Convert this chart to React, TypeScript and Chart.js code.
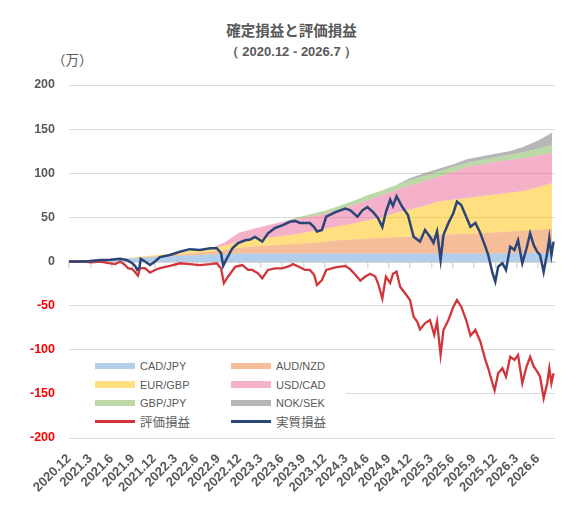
import { useEffect, useRef } from 'react'
import { Chart, registerables } from 'chart.js'

Chart.register(...registerables)

// months since 2020.12 for the stacked (realised) areas
const areaMonths = [0, 2, 4, 6, 8, 10, 12, 14, 16, 18, 20, 22, 24, 26, 28, 30, 32, 34, 36, 38, 40, 42, 44, 46, 48, 50, 52, 54, 56, 58, 60, 62, 64, 66, 68]

const cadJpy = [0, 0.3, 1, 2, 3, 4, 5, 5.8, 6.5, 7.2, 8, 8.5, 9, 9, 9, 9, 9, 9, 9, 9, 9, 9, 9, 9, 9, 9, 9, 9, 9, 9, 9, 9, 9.5, 9.5, 9.5]
const audNzd = [0, 0, 0, 0, 0.3, 0.5, 0.7, 1.2, 1.8, 2.3, 3, 4.5, 6.5, 8, 9, 10, 11, 12, 13.5, 15, 16, 17, 18, 18.5, 19, 20, 21, 22, 22.5, 23, 24, 25, 25.5, 26.5, 27.5]
const eurGbp = [0, 0, 0, 0.2, 0.5, 1, 1.3, 1.5, 2.7, 4, 4, 5, 7.5, 8.5, 9, 10, 11, 13, 14.5, 16, 18, 20.5, 23, 27.5, 31, 34, 38, 39, 40.5, 42, 43, 44, 45, 48, 52]
const usdCad = [0, 0, 0, 0, 0, 0, 0, 0, 0, 0, 0, 4, 10, 11.5, 14, 16, 17, 17, 17, 19, 21, 22.5, 25, 26, 27, 28, 28, 31, 35, 36, 37, 37, 37, 36, 34]
const gbpJpy = [0, 0, 0, 0, 0, 0, 0, 0, 0, 0, 0, 0, 0, 0, 0, 0, 1.5, 2.5, 3.5, 4, 4.5, 6, 5.5, 5.5, 6, 6, 6, 6, 5, 5, 5, 6, 7, 8, 9]
const nokSek = [0, 0, 0, 0, 0, 0, 0, 0, 0, 0, 0, 0, 0, 0, 0, 0, 0, 0, 0, 0, 0, 0, 0, 0, 2.5, 3, 3, 3, 4, 4, 4, 4, 6, 9, 14]

// 評価損益 (unrealised)
const hyoukaMonths = [0, 2.4, 3.0, 4.4, 5.8, 6.5, 7.2, 7.9, 8.3, 8.9, 9.4, 9.7, 10.0, 10.7, 11.4, 12.1, 12.8, 14.2, 15.6, 17.0, 18.4, 19.9, 20.8, 21.4, 21.8, 22.4, 23.4, 24.4, 25.2, 25.8, 26.6, 27.2, 28.0, 29.0, 30.0, 31.1, 31.5, 32.5, 33.2, 33.9, 34.5, 34.9, 35.6, 36.2, 37.5, 38.9, 39.6, 40.3, 41.0, 41.7, 42.4, 43.1, 43.5, 44.1, 44.6, 45.2, 45.6, 46.1, 46.6, 47.3, 48.0, 48.5, 49.0, 49.4, 50.1, 50.8, 51.4, 51.8, 52.3, 52.7, 53.4, 54.1, 54.6, 55.2, 55.9, 56.5, 57.2, 57.9, 58.6, 59.0, 59.6, 59.9, 60.4, 61.0, 61.5, 62.1, 62.7, 63.2, 63.8, 64.4, 64.9, 65.4, 65.9, 66.3, 66.8, 67.3, 67.6, 67.9, 68.2]
const hyouka = [0, 0, -1, 0, -2, -3, 0, -4, -7.6, -8.6, -13, -16, -7.6, -7.6, -12.7, -9.6, -7.6, -5, -2, -3, -4, -3, -2, -7.6, -24.6, -17, -6, -4, -9.6, -9.6, -13.4, -19, -9.6, -7.7, -7.7, -5, -3, -6.6, -9.6, -9.6, -15, -26.6, -21, -9.6, -6.6, -5, -8.9, -15, -21.7, -17, -14, -17, -24.7, -42, -17, -24.4, -14, -11.5, -28.5, -36, -43.6, -62.5, -68, -77, -70, -66.3, -83, -68, -106, -77.6, -66.3, -51.2, -43.6, -51.2, -66.3, -84, -77.6, -90.9, -111.6, -121, -138, -146, -126.7, -121, -130.5, -108, -111.6, -106, -138, -119, -108, -119, -124.9, -130.5, -155, -138, -121, -138, -126.7]

// 実質損益 (realised + unrealised)
const jisshitsuMonths = [0, 2.4, 3.0, 4.4, 5.8, 7.2, 8.2, 8.9, 9.3, 9.6, 9.9, 10.1, 10.7, 11.4, 12.1, 12.8, 14.2, 15.6, 17.0, 18.4, 19.9, 20.8, 21.4, 21.7, 22.1, 23.0, 23.8, 24.8, 25.5, 26.2, 27.2, 28.0, 29.0, 30.0, 31.1, 31.8, 32.5, 33.9, 34.5, 34.9, 35.6, 36.2, 37.5, 38.9, 39.6, 40.6, 41.3, 42.0, 42.8, 43.5, 44.1, 44.6, 45.2, 45.6, 46.1, 46.9, 47.7, 48.5, 49.4, 50.1, 50.8, 51.3, 51.8, 52.3, 52.7, 53.4, 54.1, 54.6, 55.2, 55.9, 56.5, 57.2, 57.9, 58.6, 59.0, 59.6, 60.0, 60.4, 61.0, 61.5, 62.1, 62.7, 63.2, 63.8, 64.4, 64.9, 65.4, 65.9, 66.3, 66.8, 67.3, 67.6, 67.9, 68.2]
const jisshitsu = [0, 0, 0.5, 1.7, 2, 3, 1.5, -2, -5, -9.5, -7, 3, 0, -4, 0, 5, 7.4, 11, 14, 13, 15, 15, 9.6, -5, 1.7, 15, 21, 24, 25, 27.8, 22.5, 32, 38, 41, 45, 46, 43.6, 43.6, 39, 34, 35.7, 50.8, 56, 60, 58, 50.8, 58, 61.7, 56, 49, 39, 56, 70, 63, 74, 62, 52.7, 28, 22.5, 35.7, 28, 21, 34, 1.7, 30, 43.6, 55, 67.8, 64, 50.8, 39.4, 43.6, 32, 16.8, 7.4, -13, -23, -6, -2, -9.6, 16.8, 13, 24, -2, 15, 32, 18.7, 11, 7.4, -12, 9.6, 26.6, 7.4, 22.5]

const tickMonths = [0, 3, 6, 9, 12, 15, 18, 21, 24, 27, 30, 33, 36, 39, 42, 45, 48, 51, 54, 57, 60, 63, 66]
const tickLabels = ['2020.12', '2021.3', '2021.6', '2021.9', '2021.12', '2022.3', '2022.6', '2022.9', '2022.12', '2023.3', '2023.6', '2023.9', '2023.12', '2024.3', '2024.6', '2024.9', '2024.12', '2025.3', '2025.6', '2025.9', '2025.12', '2026.3', '2026.6']

const colors = {
  cadJpy: 'rgba(91, 155, 213, 0.48)',
  audNzd: 'rgba(237, 125, 49, 0.5)',
  eurGbp: 'rgba(255, 192, 0, 0.5)',
  usdCad: 'rgba(233, 100, 148, 0.5)',
  gbpJpy: 'rgba(112, 173, 71, 0.48)',
  nokSek: 'rgba(110, 110, 110, 0.5)',
  hyouka: '#d0363a',
  jisshitsu: '#2c4577',
}

const grey = '#595959'
const gridColor = '#d9d9d9'
const latin = "'Liberation Sans', Arial, sans-serif"
const cjk = "'Noto Sans CJK JP', 'Liberation Sans', sans-serif"

const toPoints = (xs: number[], ys: number[]) => xs.map((x, i) => ({ x, y: ys[i] }))

const legendItems = [
  { label: 'CAD/JPY', color: colors.cadJpy, line: false },
  { label: 'AUD/NZD', color: colors.audNzd, line: false },
  { label: 'EUR/GBP', color: colors.eurGbp, line: false },
  { label: 'USD/CAD', color: colors.usdCad, line: false },
  { label: 'GBP/JPY', color: colors.gbpJpy, line: false },
  { label: 'NOK/SEK', color: colors.nokSek, line: false },
  { label: '評価損益', color: colors.hyouka, line: true },
  { label: '実質損益', color: colors.jisshitsu, line: true },
]

function Legend() {
  const colX = [95, 231]
  const rowY = [366, 384.7, 403, 421.7]
  return (
    <div style={{ position: 'absolute', left: 70, top: 352, width: 276, height: 82, background: '#fff' }}>
      {legendItems.map((item, i) => {
        const x = colX[i % 2] - 70
        const y = rowY[Math.floor(i / 2)] - 352
        const h = item.line ? 2.5 : 6.5
        const jp = item.line
        return (
          <div key={item.label}>
            <div style={{ position: 'absolute', left: x, top: y - h / 2, width: 40, height: h, background: item.color }} />
            <div
              style={{
                position: 'absolute',
                left: x + 45,
                top: y - 10,
                height: 20,
                lineHeight: '20px',
                fontFamily: jp ? cjk : latin,
                fontSize: jp ? 12.5 : 11,
                color: grey,
                whiteSpace: 'nowrap',
              }}
            >
              {item.label}
            </div>
          </div>
        )
      })}
    </div>
  )
}

export default function App() {
  const canvasRef = useRef<HTMLCanvasElement>(null)

  useEffect(() => {
    if (!canvasRef.current) return
    const areaDs = (label: string, values: number[], color: string, first: boolean) => ({
      label,
      data: toPoints(areaMonths, values),
      backgroundColor: color,
      borderWidth: 0,
      pointRadius: 0,
      fill: first ? 'origin' : '-1',
      stack: 'fx',
      order: 2,
    })

    const chart = new Chart(canvasRef.current, {
      type: 'line',
      data: {
        datasets: [
          areaDs('CAD/JPY', cadJpy, colors.cadJpy, true),
          areaDs('AUD/NZD', audNzd, colors.audNzd, false),
          areaDs('EUR/GBP', eurGbp, colors.eurGbp, false),
          areaDs('USD/CAD', usdCad, colors.usdCad, false),
          areaDs('GBP/JPY', gbpJpy, colors.gbpJpy, false),
          areaDs('NOK/SEK', nokSek, colors.nokSek, false),
          {
            label: '評価損益',
            data: toPoints(hyoukaMonths, hyouka),
            borderColor: colors.hyouka,
            borderWidth: 2.3,
            pointRadius: 0,
            fill: false,
            stack: 'hyouka',
            order: 1,
          },
          {
            label: '実質損益',
            data: toPoints(jisshitsuMonths, jisshitsu),
            borderColor: colors.jisshitsu,
            borderWidth: 2.5,
            pointRadius: 0,
            fill: false,
            stack: 'jisshitsu',
            order: 0,
          },
        ] as any,
      },
      options: {
        animation: false,
        responsive: true,
        maintainAspectRatio: false,
        layout: { padding: { top: 85, right: 28, left: 0, bottom: 0 } },
        plugins: {
          legend: { display: false },
          tooltip: { enabled: false },
          title: { display: false },
        },
        scales: {
          x: {
            type: 'linear',
            min: 0,
            max: 68.4,
            grid: { display: false },
            border: { display: false },
            afterBuildTicks: (s: any) => {
              s.ticks = tickMonths.map(v => ({ value: v }))
            },
            afterFit: (s: any) => {
              s.height = 79
            },
            ticks: {
              autoSkip: false,
              maxRotation: 45,
              minRotation: 45,
              padding: 5,
              color: grey,
              font: { family: latin, size: 13, weight: 'bold' },
              callback: (v: any) => tickLabels[tickMonths.indexOf(Number(v))] ?? '',
            },
          },
          x0: {
            type: 'linear',
            position: { y: 0 },
            min: 0,
            max: 68.4,
            afterBuildTicks: (s: any) => {
              s.ticks = tickMonths.map(v => ({ value: v }))
            },
            grid: { drawOnChartArea: false, drawTicks: true, tickLength: 5, color: gridColor, lineWidth: 1.5 },
            border: { display: true, color: gridColor, width: 2 },
            ticks: { display: false },
          },
          y: {
            stacked: true,
            min: -200,
            max: 200,
            afterFit: (s: any) => {
              s.width = 69
            },
            grid: { color: gridColor, drawTicks: false },
            border: { display: false },
            ticks: {
              stepSize: 50,
              padding: 14,
              color: (ctx: any) => (ctx.tick.value < 0 ? '#ff0000' : grey),
              font: { family: latin, size: 12.5, weight: 'bold' },
            },
          },
        },
      } as any,
    })
    return () => chart.destroy()
  }, [])

  return (
    <div style={{ position: 'absolute', left: 0, top: 0, width: 583, height: 517, background: '#fff', overflow: 'hidden' }}>
      <div
        style={{
          position: 'absolute',
          left: 0,
          width: 583,
          top: 20,
          textAlign: 'center',
          fontFamily: cjk,
          fontWeight: 'bold',
          fontSize: 14.5,
          lineHeight: '20px',
          color: grey,
        }}
      >
        確定損益と評価損益
      </div>
      <div
        style={{
          position: 'absolute',
          left: 0,
          width: 583,
          top: 42,
          textAlign: 'center',
          fontFamily: latin,
          fontWeight: 'bold',
          fontSize: 13,
          lineHeight: '20px',
          color: grey,
        }}
      >
        （ 2020.12 - 2026.7 ）
      </div>
      <div
        style={{
          position: 'absolute',
          left: 52,
          top: 49,
          fontFamily: cjk,
          fontSize: 13.5,
          lineHeight: '20px',
          color: grey,
        }}
      >
        （万）
      </div>
      <div style={{ position: 'absolute', left: 0, top: 0, width: 583, height: 517 }}>
        <canvas ref={canvasRef} />
      </div>
      <Legend />
    </div>
  )
}
